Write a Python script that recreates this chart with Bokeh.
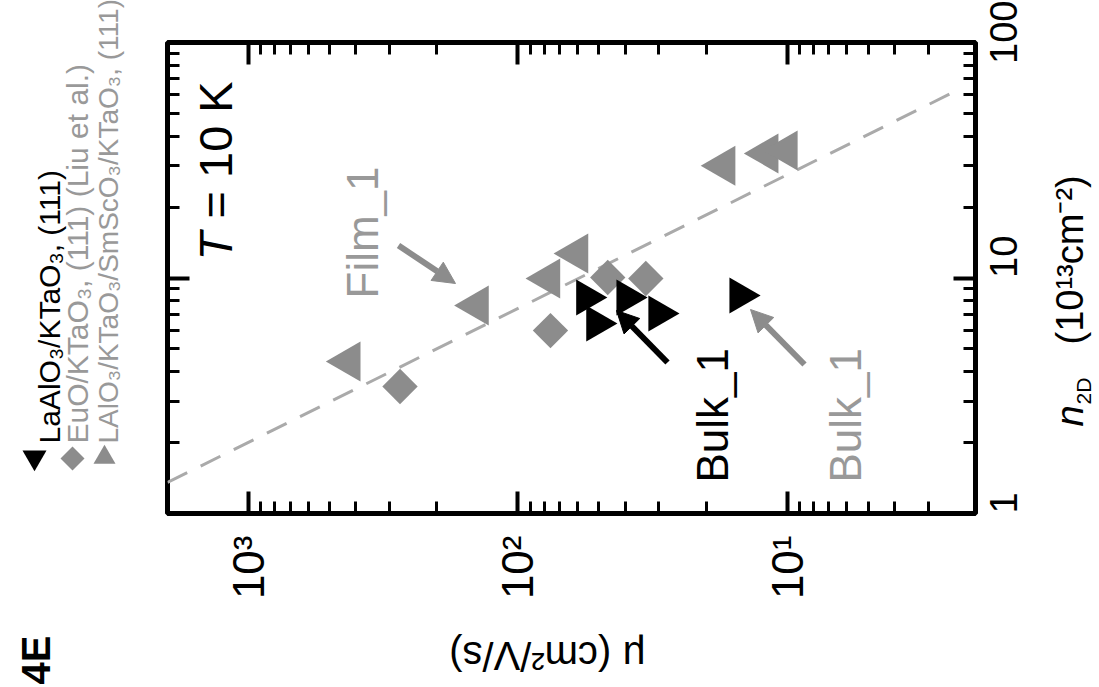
import math
from bokeh.plotting import figure
from bokeh.models import Range1d, LogAxis, LogTicker, Label, Arrow, NormalHead
from bokeh.layouts import row, column
from bokeh.embed import file_html
from bokeh.resources import INLINE

# ---------------- data ----------------
# LaAlO3/KTaO3/SmScO3/KTaO3 (111)  (grey triangles)
film_mu = [424, 141.6, 76.9, 60.5, 17.2, 11.9, 10.1]
film_n = [4.42, 7.64, 9.95, 12.7, 30.0, 33.8, 34.8]
# EuO/KTaO3 (111) (Liu et al.)  (grey diamonds)
euo_mu = [274, 75.7, 46.4, 33.5]
euo_n = [3.46, 5.98, 10.05, 9.95]
# LaAlO3/KTaO3 (111)  (black triangles)
bulk_mu = [55.6, 51.0, 39.4, 30.0, 15.0]
bulk_n = [8.27, 6.41, 8.27, 7.07, 8.43]
# dashed guide line
guide_mu = [2000, 2.31]
guide_n = [1.354, 63.1]

mu_ticks = [10, 100, 1000]
mu_tick_labels = ["10¹", "10²", "10³"]
n_ticks = [1, 10, 100]
n_tick_labels = ["1", "10", "100"]

legend_texts = ["LaAlO₃/KTaO₃, (111)",
                "EuO/KTaO₃, (111) (Liu et al.)",
                "LAlO₃/KTaO₃/SmScO₃/KTaO₃, (111)"]

BLACK = "#000000"
GREY = "#8c8c8c"
GREY_TXT = "#999999"
FONT = "Liberation Sans"

# ---------------- layout (page pixels) ----------------
W, H = 1099, 687
MU_LO, MU_HI = 2, 2000
N_LO, N_HI = 1, 100
FR_L, FR_R, FR_T, FR_B = 167, 975, 42, 513   # frame edges on the page
L_W = 148                                    # legend strip
M_R = 1048                                   # right edge of main figure
M_B = 620                                    # bottom edge of main figure
SHIFT = 0.43                                 # rotated-label baseline correction (em)


def mu_at(px):
    return 10 ** (math.log10(MU_HI) - (px - FR_L) / (FR_R - FR_L) * math.log10(MU_HI / MU_LO))


def n_at(py):
    return 10 ** (math.log10(N_LO) + (FR_B - py) / (FR_B - FR_T) * math.log10(N_HI / N_LO))


# ---------------- main plot ----------------
p = figure(width=M_R - L_W, height=M_B, x_axis_type="log", y_axis_type="log",
           x_range=Range1d(MU_HI, MU_LO), y_range=Range1d(N_LO, N_HI),
           x_axis_location="below", y_axis_location="right",
           output_backend="svg", toolbar_location=None,
           min_border_left=FR_L - L_W, min_border_right=M_R - FR_R,
           min_border_top=FR_T, min_border_bottom=M_B - FR_B)
p.background_fill_color = "white"
p.border_fill_color = "white"
p.outline_line_color = "black"
p.outline_line_width = 5
p.xgrid.visible = False
p.ygrid.visible = False

bottom_ax = p.below[0]
right_ax = p.right[0]
left_ax = LogAxis()
top_ax = LogAxis()
p.add_layout(left_ax, "left")
p.add_layout(top_ax, "above")


def style(ax, overrides, size):
    ax.ticker = LogTicker(num_minor_ticks=10)
    ax.axis_line_color = None
    ax.major_tick_in = 22
    ax.major_tick_out = 0
    ax.minor_tick_in = 12
    ax.minor_tick_out = 0
    ax.major_tick_line_width = 4
    ax.minor_tick_line_width = 3
    ax.major_tick_line_color = "black"
    ax.minor_tick_line_color = "black"
    ax.major_label_overrides = overrides
    ax.major_label_text_font = FONT
    ax.major_label_text_font_size = size
    ax.major_label_text_color = "black"
    ax.major_label_orientation = math.pi / 2


style(bottom_ax, dict(zip(mu_ticks, mu_tick_labels)), "44px")
style(right_ax, dict(zip(n_ticks, n_tick_labels)), "38px")
style(left_ax, {t: "" for t in n_ticks}, "0px")
style(top_ax, {t: "" for t in mu_ticks}, "0px")
bottom_ax.major_label_standoff = 22
right_ax.major_label_standoff = 28
left_ax.major_label_standoff = 0
top_ax.major_label_standoff = 0

# dashed guide
p.line(guide_mu, guide_n, line_dash="22 15", line_width=3, line_color="#aaaaaa")

# data markers
p.scatter(film_mu, film_n, marker="triangle", angle=math.pi / 2, size=40,
          fill_color=GREY, line_color=None)
p.scatter(euo_mu, euo_n, marker="square", angle=math.pi / 4, size=25,
          fill_color=GREY, line_color=None)
p.scatter(bulk_mu, bulk_n, marker="inverted_triangle", angle=math.pi / 2, size=36,
          fill_color=BLACK, line_color=None)


def arrow(x0, y0, x1, y1, color):
    p.add_layout(Arrow(end=NormalHead(size=22, fill_color=color, line_color=color),
                       x_start=mu_at(x0), y_start=n_at(y0), x_end=mu_at(x1), y_end=n_at(y1),
                       line_color=color, line_width=6))


arrow(398, 245, 455, 283, GREY)
arrow(667, 362, 616, 310, BLACK)
arrow(804, 364, 750, 309, GREY)


def label(fig, text, x, y, size, color=BLACK, angle=math.pi / 2, align="left",
          baseline="alphabetic", style="normal", font=FONT):
    fig.add_layout(Label(x=x, y=y, text=text, angle=angle,
                         text_align=align, text_baseline=baseline,
                         text_font=font, text_font_size=f"{size}px",
                         text_font_style=style, text_color=color))


def vlabel(fig, text, base_x, y, size, conv=None, **kw):
    """Rotated (reading upward) text whose baseline sits at page x = base_x."""
    x = base_x - SHIFT * size
    if conv:
        label(fig, text, mu_at(x), n_at(y), size, **kw)
    else:
        label(fig, text, x, y, size, **kw)


# in-plot annotations
vlabel(p, "T", 235, 260, 47, conv=True, style="italic")
vlabel(p, "= 10 K", 235, 218, 47, conv=True)
vlabel(p, "Film_1", 381, 298, 44, conv=True, color=GREY_TXT)
vlabel(p, "Bulk_1", 731, 482, 44, conv=True)
vlabel(p, "Bulk_1", 864, 482, 44, conv=True, color=GREY_TXT)


# ---------------- side strips (page-pixel coordinates) ----------------
def strip(width, height, x0, x1, y_top, y_bottom):
    f = figure(width=width, height=height, x_range=Range1d(x0, x1),
               y_range=Range1d(y_bottom, y_top), x_axis_type=None, y_axis_type=None,
               output_backend="svg", toolbar_location=None,
               min_border_left=0, min_border_right=0, min_border_top=0, min_border_bottom=0)
    f.outline_line_color = None
    f.background_fill_color = "white"
    f.border_fill_color = "white"
    return f


# legend strip + figure tag
L = strip(L_W, H, 0, L_W, 0, H)
legend_base = [62, 90, 120]
legend_size = [30, 30, 28]
for t, bx, sz, c in zip(legend_texts, legend_base, legend_size, [BLACK, GREY_TXT, GREY_TXT]):
    vlabel(L, t, bx, 443, sz, color=c)
L.scatter([34], [457], marker="inverted_triangle", size=24, fill_color=BLACK, line_color=None)
L.scatter([72], [458], marker="square", angle=math.pi / 4, size=17, fill_color=GREY, line_color=None)
L.scatter([104], [457], marker="triangle", size=22, fill_color=GREY, line_color=None)
vlabel(L, "4E", 53, 684, 40, style="bold")

# bottom strip: mu axis title (upside down)
B = strip(M_R - L_W, H - M_B, L_W, M_R, M_B, H)
label(B, "μ (cm²/V/s)", 571, 655, 40, angle=math.pi, align="center", baseline="middle")

# right strip: n axis title
R = strip(W - M_R, H, M_R, W, 0, H)
vlabel(R, "n", 1086, 426, 38, style="italic")
vlabel(R, "2D", 1092, 404, 21)
vlabel(R, "(10¹³cm⁻²)", 1086, 344, 38)

layout = row(L, column(p, B, spacing=0), R, spacing=0)
open("out.html", "w").write(file_html(layout, INLINE))
